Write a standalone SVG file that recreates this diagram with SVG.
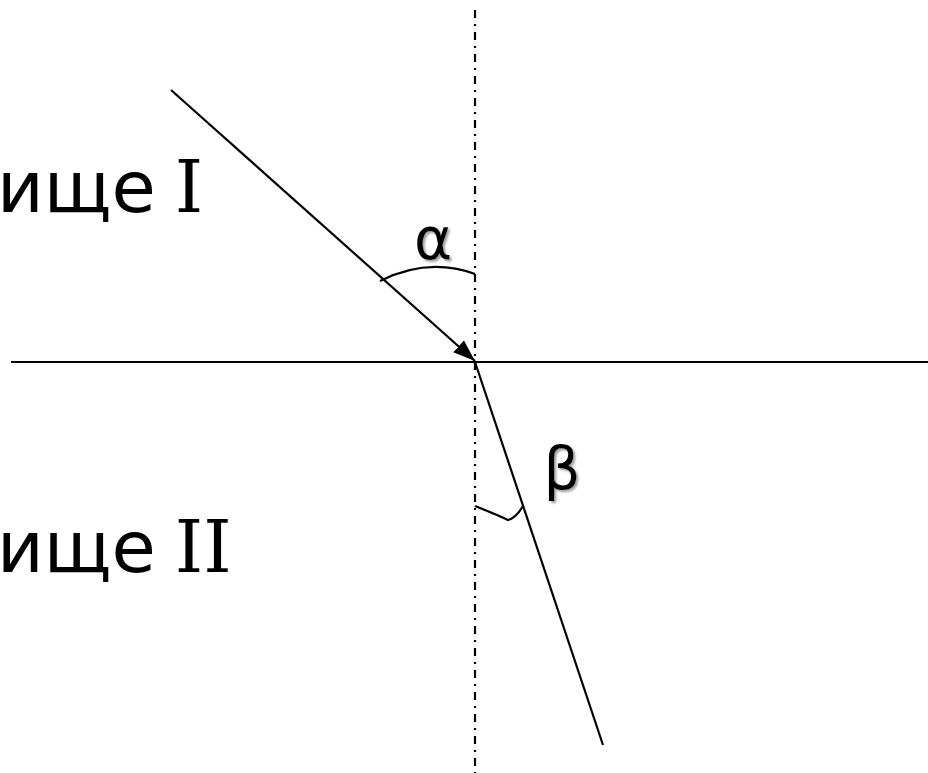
<svg xmlns="http://www.w3.org/2000/svg" width="928" height="773" viewBox="0 0 928 773">
<style>
.ln{stroke:#000;stroke-width:2.2;fill:none}
.lbl{font-family:"DejaVu Sans","Liberation Sans",sans-serif;fill:#000}
.rn{font-family:"DejaVu Serif","Liberation Serif",serif}
.greek{font-family:"DejaVu Sans","Liberation Sans",sans-serif;fill:#000;filter:url(#sh)}
</style>
<defs>
<marker id="arrB" markerWidth="22" markerHeight="16" refX="22" refY="8" orient="auto" markerUnits="userSpaceOnUse" viewBox="0 0 22 16">
<path d="M0,0 L22,8 L0,16 Z" fill="#000"/>
</marker>
<filter id="sh" x="-20%" y="-20%" width="150%" height="150%">
<feDropShadow dx="2" dy="2" stdDeviation="1.2" flood-color="#888" flood-opacity="0.8"/>
</filter>
</defs>
<g id="labels">
<g id="medium1"><text class="lbl" x="-3" y="212" font-size="72">ище <tspan class="rn" dx="-4">I</tspan></text></g>
<g id="medium2"><text class="lbl" x="-3" y="572" font-size="72">ище <tspan class="rn" dx="-4">II</tspan></text></g>
<g id="alpha"><text class="greek" x="433" y="259" font-size="58" text-anchor="middle">α</text></g>
<g id="beta"><text class="greek" x="562" y="489" font-size="58" text-anchor="middle">β</text></g>
</g>
<g id="connectors">
<line id="interface" class="ln" x1="11" y1="362" x2="928" y2="362"/>
<line id="normal" class="ln" x1="475" y1="10" x2="475" y2="773" stroke-dasharray="8 6 2 6"/>
<line id="incident" class="ln" x1="171" y1="90" x2="475" y2="361" marker-end="url(#arrB)"/>
<line id="refracted" class="ln" x1="475" y1="362" x2="603" y2="745"/>
<path id="arcAlpha" class="ln" d="M380,281 Q428,257 475,274"/>
<path id="arcBeta" class="ln" d="M475,506 Q500,516 508,520 Q516,518 523,506"/>
</g>
</svg>
